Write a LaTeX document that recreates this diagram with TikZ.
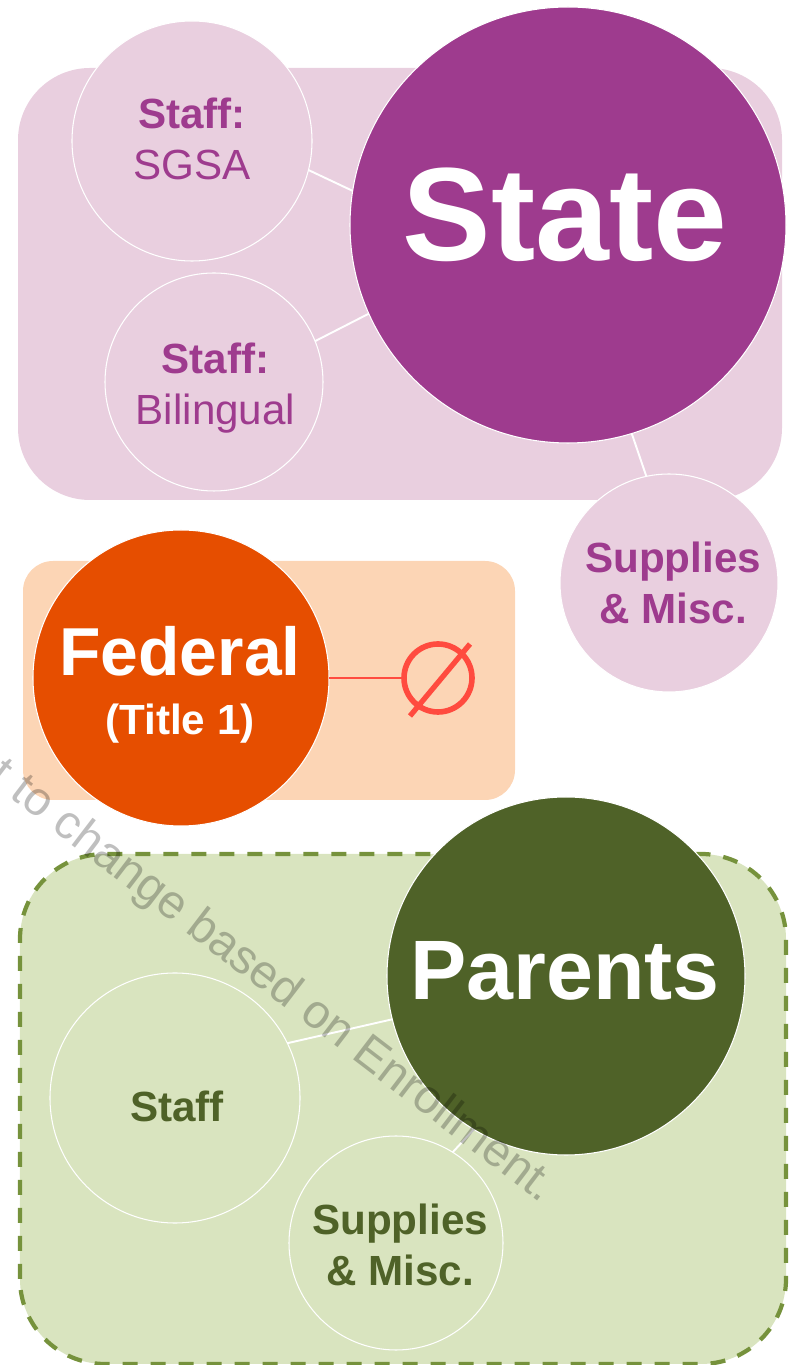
\documentclass[tikz,border=0pt]{standalone}
\usepackage{fontspec}
\setmainfont{Liberation Sans}
\definecolor{statepurple}{RGB}{158,59,142}
\definecolor{statepale}{RGB}{233,207,223}
\definecolor{fedorange}{RGB}{230,78,0}
\definecolor{fedpale}{RGB}{252,213,181}
\definecolor{nullred}{RGB}{255,75,63}
\definecolor{parentolive}{RGB}{79,98,40}
\definecolor{parentpale}{RGB}{217,228,191}
\definecolor{parentdash}{RGB}{118,146,60}
\tikzset{
  bubble/.style={circle,draw=white,line width=0.6pt,inner sep=0pt,outer sep=0pt},
  link/.style={draw=white,line width=1.1pt},
  small/.style={align=center,font=\fontsize{24}{29}\selectfont}
}
\begin{document}
\begin{tikzpicture}
    \useasboundingbox (0,0) rectangle (15.88,27.3);

    \fill[statepale,rounded corners=1.44cm] (0.36,17.3) rectangle (15.64,25.94);
    \fill[fedpale,rounded corners=0.6cm] (0.46,11.3) rectangle (10.3,16.08);
    \filldraw[fill=parentpale,draw=parentdash,line width=2.4pt,dash pattern=on 0.3cm off 0.26cm,rounded corners=1.7cm] (0.4,0.02) rectangle (15.72,10.22);

    \node[bubble,fill=statepurple,minimum size=8.72cm] (state) at (11.36,22.8) {};
    \node[text=white] (statetext) at (11.3,23.0) {\fontsize{75.5}{80}\selectfont\bfseries State};
    \node[bubble,fill=statepale,minimum size=4.8cm] (sgsa) at (3.84,24.48) {};
    \node[small,text=statepurple] (sgsatext) at (3.84,24.53) {\textbf{Staff:}\\SGSA};
    \node[bubble,fill=statepale,minimum size=4.36cm] (bilingual) at (4.28,19.66) {};
    \node[small,text=statepurple] (bilingualtext) at (4.31,19.54) {\textbf{Staff:}\\Bilingual};
    \node[bubble,fill=statepale,minimum size=4.36cm] (misc) at (13.38,15.64) {};
    \node[small,text=statepurple] (misctext) at (13.46,15.64) {\textbf{Supplies}\\\textbf{\& Misc.}};

    \draw[link] (sgsa.-14.6) -- (state.171.4);
    \draw[link] (bilingual.22) -- (state.204);
    \draw[link] (state.-73.1) -- (misc.102.4);

    \node[bubble,fill=fedorange,minimum size=5.92cm] (federal) at (3.62,13.74) {};
    \node[text=white,align=center] (fedtext) at (3.6,13.6) {\fontsize{38.6}{38}\selectfont\bfseries Federal\\[14.6pt]\fontsize{24}{24}\selectfont\bfseries (Title 1)};
    \node[circle,draw=nullred,line width=3.2pt,inner sep=0pt,minimum size=1.36cm] (nothing) at (8.76,13.74) {};
    \coordinate (slasha) at (8.2,12.98);
    \coordinate (slashb) at (9.4,14.42);
    \draw[nullred,line width=3pt] (slasha) -- (slashb);
    \draw[nullred,line width=0.8pt] (federal.east) -- (nothing.west);

    \node[bubble,fill=parentolive,minimum size=7.16cm] (parents) at (11.32,7.78) {};
    \node[text=white] (parentstext) at (11.3,7.88) {\fontsize{48}{52}\selectfont\bfseries Parents};
    \node[bubble,fill=parentpale,minimum size=5cm] (staff) at (3.5,5.34) {};
    \node[small,text=parentolive] (stafftext) at (3.54,5.18) {\textbf{Staff}};
    \node[bubble,fill=parentpale,minimum size=4.28cm] (misctwo) at (7.92,2.44) {};
    \node[small,text=parentolive] (misctwotext) at (8,2.4) {\textbf{Supplies}\\\textbf{\& Misc.}};

    \draw[link] (parents.194.5) -- (staff.26.6);
    \draw[link] (parents.239.4) -- (misctwo.58.5);

    \node[rotate=-37.4,text=black,text opacity=0.25,font=\fontsize{27}{30}\selectfont] (notice) at (5.44,7.65) {t to change based on Enrollment.};
\end{tikzpicture}
\end{document}
